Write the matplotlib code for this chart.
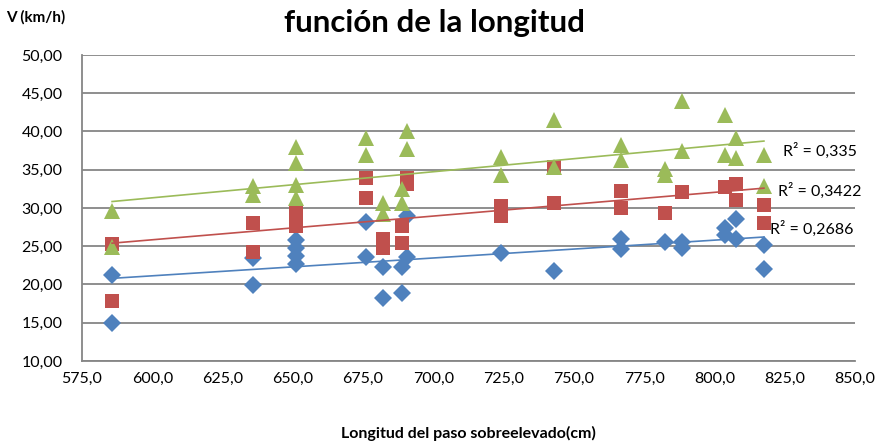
import numpy as np
import matplotlib
matplotlib.use("Agg")
import matplotlib.pyplot as plt
from matplotlib.ticker import FuncFormatter, MultipleLocator

# Speed measurements (km/h) against raised-crossing length (cm), three series
x_blue = [585.7, 585.7, 636, 636, 651, 651, 651, 651, 676, 676, 682, 682, 689, 689,
          690.6, 690.6, 724, 743, 766.7, 766.7, 782.4, 788.6, 788.6, 803.7, 803.7,
          807.7, 807.7, 817.6, 817.6]
y_blue = [21.2, 15.0, 19.9, 23.4, 25.8, 24.8, 23.7, 22.7, 28.2, 23.6, 22.3, 18.3, 22.3, 18.9,
          29.0, 23.6, 24.1, 21.8, 26.0, 24.7, 25.5, 25.6, 24.8, 27.4, 26.5,
          28.6, 26.0, 25.1, 22.0]

x_red = [585.7, 585.7, 636, 636, 651, 651, 651, 676, 676, 682, 682, 689, 689,
         690.6, 690.6, 724, 724, 743, 743, 766.7, 766.7, 782.4, 788.6, 803.7,
         807.7, 807.7, 817.6, 817.6]
y_red = [25.3, 17.9, 28.0, 24.2, 29.5, 28.7, 27.6, 33.9, 31.3, 26.0, 24.8, 27.7, 25.4,
         33.9, 33.2, 30.2, 29.0, 35.4, 30.6, 32.2, 30.0, 29.4, 32.1, 32.8,
         33.2, 31.1, 30.4, 28.0]

x_green = [585.7, 585.7, 636, 636, 651, 651, 651, 651, 676, 676, 682, 682, 689, 689,
           690.6, 690.6, 724, 724, 743, 743, 766.7, 766.7, 782.4, 782.4, 788.6, 788.6,
           803.7, 803.7, 807.7, 807.7, 817.6, 817.6]
y_green = [29.6, 24.9, 32.9, 31.7, 38.0, 35.9, 33.0, 31.3, 39.2, 36.9, 30.7, 29.2, 32.5, 30.6,
           40.0, 37.7, 36.7, 34.3, 41.5, 35.3, 38.3, 36.3, 35.1, 34.3, 44.0, 37.4,
           42.1, 36.9, 39.2, 36.5, 36.9, 32.9]

r2_labels = ["R² = 0,2686", "R² = 0,3422", "R² = 0,335"]
x_ticks = [575, 600, 625, 650, 675, 700, 725, 750, 775, 800, 825, 850]

blue = "#4F81BD"
red = "#C0504D"
green = "#9BBB59"
grid_col = "#868686"

plt.rcParams["font.family"] = ["Lato", "DejaVu Sans"]

W, H = 881, 443
fig = plt.figure(figsize=(W / 100, H / 100), dpi=100)
ax = fig.add_axes([82 / W, 1 - 361 / H, (855 - 82) / W, (361 - 55) / H])

series = [
    (x_blue, y_blue, blue, "D", 9.5),
    (x_red, y_red, red, "s", 10.5),
    (x_green, y_green, green, "^", 11.5),
]

for xs, ys, col, mk, ms in series:
    ax.plot(xs, ys, linestyle="none", marker=mk, markersize=ms, color=col,
            markeredgewidth=0, zorder=3)

# Linear trendlines over the data range
for xs, ys, col, mk, ms in series:
    xa = np.array(xs)
    k, b = np.polyfit(xa, np.array(ys), 1)
    xx = np.array([xa.min(), xa.max()])
    ax.plot(xx, k * xx + b, color=col, linewidth=1.2, zorder=4)

# R² annotations placed in figure pixel coordinates (top-left origin)
label_px = [(770, 229), (778, 191), (783, 151)]
for (px, py), lab in zip(label_px, r2_labels):
    fig.text(px / W, 1 - py / H, lab, fontsize=11.5, va="center", ha="left", zorder=5)

ax.set_xlim(575, 850)
ax.set_ylim(10, 50)
ax.set_xticks(x_ticks)
ax.yaxis.set_major_locator(MultipleLocator(5))
ax.xaxis.set_major_formatter(FuncFormatter(lambda v, p: f"{v:.1f}".replace(".", ",")))
ax.yaxis.set_major_formatter(FuncFormatter(lambda v, p: f"{v:.2f}".replace(".", ",")))
ax.tick_params(axis="both", length=0, labelsize=11.5, colors="black", pad=8)
ax.tick_params(axis="y", pad=14)
ax.grid(axis="y", color=grid_col, linewidth=1.3)
ax.set_axisbelow(True)
for side in ["top", "right"]:
    ax.spines[side].set_visible(False)
for side in ["left", "bottom"]:
    ax.spines[side].set_color(grid_col)
    ax.spines[side].set_linewidth(1.3)

fig.text(434 / W, 1 - 23 / H, "función de la longitud", ha="center", va="center",
         fontsize=22.5, fontweight="bold")
fig.text(6 / W, 1 - 17 / H, "V (km/h)", ha="left", va="center",
         fontsize=11, fontweight="bold")
fig.text(468 / W, 1 - 433 / H, "Longitud del paso sobreelevado(cm)", ha="center",
         va="center", fontsize=11.5, fontweight="bold")

fig.savefig("out.png", dpi=100)
